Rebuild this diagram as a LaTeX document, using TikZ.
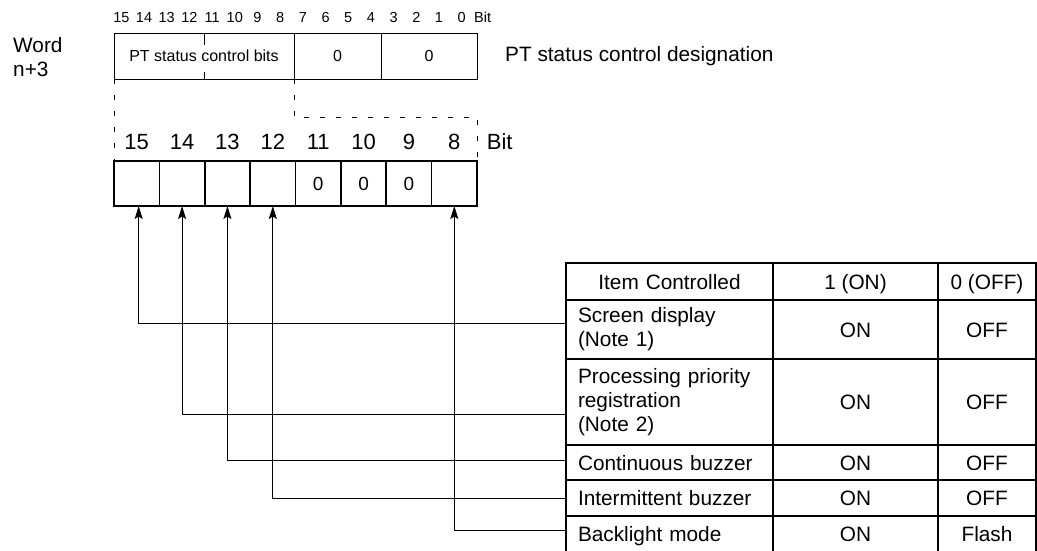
\documentclass[tikz,border=0pt]{standalone}
\usepackage{fontspec}
\setmainfont{Liberation Sans}
\usepackage{tikz}
\usetikzlibrary{arrows.meta, positioning}
\tikzstyle{lbl}      = [font=\fontsize{20.8}{24}\selectfont]
\tikzstyle{toplbl}   = [font=\fontsize{14.5}{17}\selectfont, anchor=base]
\tikzstyle{bitlbl}   = [font=\fontsize{22}{26}\selectfont]
\tikzstyle{regbox}   = [rectangle, draw=black, line width=1pt, outer sep=0pt, minimum height=46pt, font=\fontsize{16}{19}\selectfont]
\tikzstyle{bitcell}  = [rectangle, draw=black, line width=1.6pt, outer sep=0pt, minimum width=45.375pt, minimum height=45pt, font=\fontsize{19}{23}\selectfont]
\tikzstyle{tcell}    = [rectangle, draw=black, line width=1.8pt, outer sep=0pt, inner xsep=12pt, inner ysep=0pt, font=\fontsize{20.8}{24}\selectfont]
\tikzstyle{oneline}  = [text height=15pt, text depth=0pt]
\tikzstyle{itemcell} = [tcell, text width=183pt, align=left]
\tikzstyle{oncell}   = [tcell, oneline, minimum width=165pt, align=center]
\tikzstyle{offcell}  = [tcell, oneline, minimum width=98pt, align=center]
\tikzstyle{dashline} = [line width=1pt, dash pattern=on 5pt off 11pt]
\tikzstyle{arrow}    = [line width=1pt, ->, >={Stealth[length=13pt, width=8pt, inset=2.5pt]}]
\begin{document}
\begin{tikzpicture}[x=1pt, y=-1pt, every node/.style={inner sep=0pt}]
  \useasboundingbox (0,0) rectangle (1037,550);

  % Word n+3
  \node[lbl, align=left, anchor=west] (word) at (13,57) {Word\\n+3};
  \node[regbox, minimum width=180pt, anchor=north west] (ctrl) at (114,33) {PT status control bits};
  \node[regbox, minimum width=87pt, right=0pt of ctrl] (zeroA) {0};
  \node[regbox, minimum width=96pt, right=0pt of zeroA] (zeroB) {0};
  \node[lbl, right=28pt of zeroB] (desig) {PT status control designation};
  \draw[line width=1pt] (ctrl.north) -- ++(0,12);
  \draw[line width=1pt] (ctrl.south) -- ++(0,-7);
  \foreach \b in {0,...,15}
    \node[toplbl] (t\b) at ({110+(15.5-\b)*22.69},22.2) {\b};
  \node[toplbl, anchor=base west] (tbit) at ([xshift=8pt]t0.base east) {Bit};

  % Bits 15 to 8
  \node[bitcell, anchor=north west] (b15) at (114,161) {};
  \node[bitcell, right=0pt of b15] (b14) {};
  \node[bitcell, right=0pt of b14] (b13) {};
  \node[bitcell, right=0pt of b13] (b12) {};
  \node[bitcell, right=0pt of b12] (b11) {0};
  \node[bitcell, right=0pt of b11] (b10) {0};
  \node[bitcell, right=0pt of b10] (b9) {0};
  \node[bitcell, right=0pt of b9] (b8) {};
  \foreach \b in {15,14,...,8}
    \node[bitlbl] (l\b) at ([yshift=19pt]b\b.north) {\b};
  \node[bitlbl, right=26pt of l8] (lbit) {Bit};

  % Expansion
  \draw[dashline] (ctrl.south west) -- (b15.north west);
  \draw[dashline] (zeroA.south west) -- ++(0,38) -| (b8.north east);

  % Table
  \node[itemcell, oneline, align=center, minimum height=37pt, anchor=north west] (hdr) at (566,263) {Item Controlled};
  \node[oncell, minimum height=37pt, right=0pt of hdr] (hdrOn) {1 (ON)};
  \node[offcell, minimum height=37pt, right=0pt of hdrOn] (hdrOff) {0 (OFF)};
  \node[itemcell, minimum height=59pt, below=0pt of hdr] (scr) {Screen display\\(Note 1)};
  \node[oncell, minimum height=59pt, right=0pt of scr] (scrOn) {ON};
  \node[offcell, minimum height=59pt, right=0pt of scrOn] (scrOff) {OFF};
  \node[itemcell, minimum height=86pt, below=0pt of scr] (prio) {Processing priority\\registration\\(Note 2)};
  \node[oncell, minimum height=86pt, right=0pt of prio] (prioOn) {ON};
  \node[offcell, minimum height=86pt, right=0pt of prioOn] (prioOff) {OFF};
  \node[itemcell, oneline, minimum height=35pt, below=0pt of prio] (cbuz) {Continuous buzzer};
  \node[oncell, minimum height=35pt, right=0pt of cbuz] (cbuzOn) {ON};
  \node[offcell, minimum height=35pt, right=0pt of cbuzOn] (cbuzOff) {OFF};
  \node[itemcell, oneline, minimum height=36pt, below=0pt of cbuz] (ibuz) {Intermittent buzzer};
  \node[oncell, minimum height=36pt, right=0pt of ibuz] (ibuzOn) {ON};
  \node[offcell, minimum height=36pt, right=0pt of ibuzOn] (ibuzOff) {OFF};
  \node[itemcell, oneline, minimum height=36pt, below=0pt of ibuz] (blm) {Backlight mode};
  \node[oncell, minimum height=36pt, right=0pt of blm] (blmOn) {ON};
  \node[offcell, minimum height=36pt, right=0pt of blmOn] (blmOff) {Flash};

  % Arrows
  \draw[arrow] ([yshift=6.5pt]scr.west) -| ([xshift=2pt]b15.south);
  \draw[arrow] ([yshift=-12pt]prio.west) -| (b14.south);
  \draw[arrow] ([yshift=2.5pt]cbuz.west) -| (b13.south);
  \draw[arrow] (ibuz.west) -| (b12.south);
  \draw[arrow] ([yshift=4pt]blm.west) -| (b8.south);

\end{tikzpicture}
\end{document}
